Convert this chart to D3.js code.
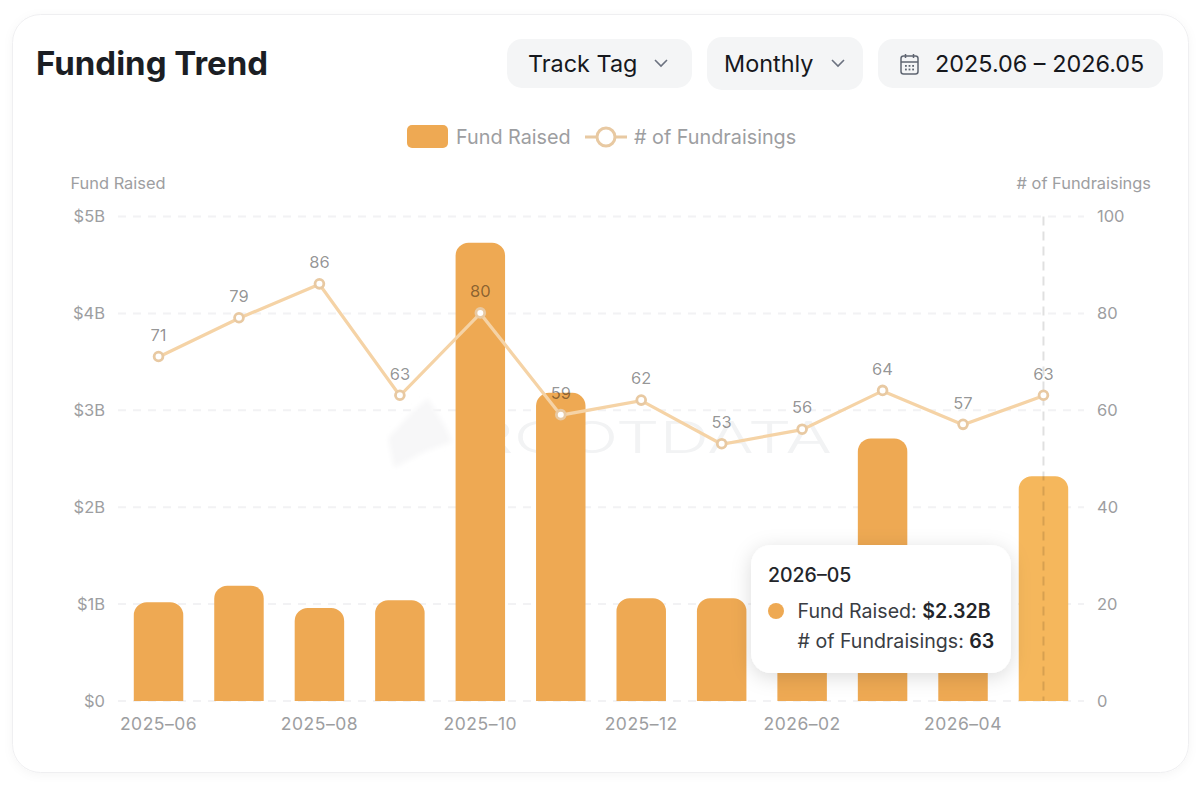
<!DOCTYPE html>
<html>
<head>
<meta charset="utf-8">
<title>Funding Trend</title>
<script src="https://cdn.jsdelivr.net/npm/d3@7"></script>
<style>
  html, body { margin: 0; padding: 0; background: #fff; overflow: hidden; }
  svg { display: block; font-family: Inter, "Noto Sans", sans-serif; }
</style>
</head>
<body>
<svg id="chart" width="1200" height="785"></svg>
<script>
var months = ['2025–06', '2025–07', '2025–08', '2025–09', '2025–10', '2025–11', '2025–12', '2026–01', '2026–02', '2026–03', '2026–04', '2026–05']
// billions of USD. 2026-02 and 2026-04 have their tops hidden by the tooltip, so those two are guesses
var fundRaised = [1.02, 1.19, 0.96, 1.04, 4.73, 3.18, 1.06, 1.06, 1.2, 2.71, 1.2, 2.32]
var fundraisings = [71, 79, 86, 63, 80, 59, 62, 53, 56, 64, 57, 63]
var monthTicks = ['2025–06', '2025–08', '2025–10', '2025–12', '2026–02', '2026–04']
var fundTicks = [0, 1, 2, 3, 4, 5]
var countTicks = [0, 20, 40, 60, 80, 100]

var barColor = '#EEA953'
var hoverColor = '#F5B75C'
var lineColor = '#F5D3A6'
var dotColor = '#E8C9A2'
var tickColor = '#9D9EA1'

var svg = d3.select('#chart')

var defs = svg.append('defs')
var shadow = defs.append('filter').attr('id', 'tipShadow')
  .attr('x', '-20%').attr('y', '-20%').attr('width', '140%').attr('height', '150%')
shadow.append('feDropShadow').attr('dx', 0).attr('dy', 4).attr('stdDeviation', 10)
  .attr('flood-color', '#000').attr('flood-opacity', 0.14)
var cardShadow = defs.append('filter').attr('id', 'cardShadow')
  .attr('x', '-5%').attr('y', '-5%').attr('width', '110%').attr('height', '110%')
cardShadow.append('feDropShadow').attr('dx', 0).attr('dy', 2).attr('stdDeviation', 5)
  .attr('flood-color', '#000').attr('flood-opacity', 0.04)
defs.append('filter').attr('id', 'soft')
  .append('feGaussianBlur').attr('stdDeviation', 2.5)

// card
svg.append('rect')
  .attr('x', 12.5).attr('y', 14.5).attr('width', 1176).attr('height', 758).attr('rx', 28)
  .attr('fill', '#fff').attr('stroke', '#EFEFF1').attr('filter', 'url(#cardShadow)')

svg.append('text').attr('x', 36).attr('y', 75)
  .attr('font-size', 33).attr('font-weight', 700).attr('fill', '#1B1E24')
  .text('Funding Trend')

// header controls
function chevron(x, y) {
  svg.append('path')
    .attr('d', 'M' + (x - 6) + ',' + (y - 3) + 'L' + x + ',' + (y + 3) + 'L' + (x + 6) + ',' + (y - 3))
    .attr('fill', 'none').attr('stroke', '#6C7280').attr('stroke-width', 1.6)
}

function pill(x, y, w, h, label, textX) {
  svg.append('rect').attr('x', x).attr('y', y).attr('width', w).attr('height', h).attr('rx', 15)
    .attr('fill', '#F4F5F6')
  svg.append('text').attr('x', textX).attr('y', 72)
    .attr('font-size', 23.4).attr('fill', '#16181D').text(label)
}

pill(507, 39, 185, 49, 'Track Tag', 528)
chevron(661, 63)
pill(707, 37, 156, 53, 'Monthly', 724)
chevron(838, 63)
pill(878, 39, 285, 49, '2025.06 – 2026.05', 935)

var cal = svg.append('g').attr('transform', 'translate(901,54)')
  .attr('fill', 'none').attr('stroke', '#5F6672').attr('stroke-width', 1.5)
cal.append('rect').attr('x', 0).attr('y', 2).attr('width', 17).attr('height', 18).attr('rx', 2.5)
cal.append('path').attr('d', 'M0,8H17M4.5,0V4M12.5,0V4')
d3.range(3).forEach(function(col) {
  d3.range(2).forEach(function(row) {
    cal.append('rect').attr('x', 4 + col * 3.6).attr('y', 11 + row * 3.6)
      .attr('width', 1.8).attr('height', 1.8).attr('fill', '#5F6672').attr('stroke', 'none')
  })
})

// legend
svg.append('rect').attr('x', 407).attr('y', 125).attr('width', 41).attr('height', 23).attr('rx', 5)
  .attr('fill', barColor)
svg.append('text').attr('x', 456).attr('y', 143.5).attr('font-size', 19.8).attr('fill', tickColor).text('Fund Raised')
svg.append('path').attr('d', 'M585,137H627').attr('stroke', dotColor).attr('stroke-width', 3)
svg.append('circle').attr('cx', 606).attr('cy', 137).attr('r', 9)
  .attr('fill', '#fff').attr('stroke', dotColor).attr('stroke-width', 3)
svg.append('text').attr('x', 634).attr('y', 143.5).attr('font-size', 19.8).attr('fill', tickColor).text('# of Fundraisings')

// axis titles
svg.append('text').attr('x', 70.5).attr('y', 189).attr('font-size', 16.4).attr('fill', tickColor).text('Fund Raised')
svg.append('text').attr('x', 1151).attr('y', 189).attr('text-anchor', 'end')
  .attr('font-size', 16.4).attr('fill', tickColor).text('# of Fundraisings')

// scales
var x = d3.scaleBand().domain(months).range([118.3, 1083.7]).paddingInner(0.385).paddingOuter(0.1925)
var yFund = d3.scaleLinear().domain([0, 5]).range([701, 216.5])
var yCount = d3.scaleLinear().domain([0, 100]).range([701, 216.5])

// grid
svg.append('g').selectAll('line').data(fundTicks).join('line')
  .attr('x1', 118).attr('x2', 1084)
  .attr('y1', function(d) { return yFund(d) }).attr('y2', function(d) { return yFund(d) })
  .attr('stroke', '#F2F2F4').attr('stroke-width', 2).attr('stroke-dasharray', '8 7')

// watermark
var mark = svg.append('g')
mark.append('path').attr('d', 'M428,398L446,428L452,442L424,452L394,468L388,438L412,412Z')
  .attr('fill', '#F7F7F8').attr('filter', 'url(#soft)')
mark.append('text').attr('x', 470).attr('y', 453).attr('font-size', 44).attr('font-weight', 300)
  .attr('textLength', 362).attr('lengthAdjust', 'spacingAndGlyphs')
  .attr('fill', '#F2F3F4').text('ROOTDATA')

// bars, only the top corners are rounded
function barPath(d, i) {
  var x0 = x(months[i])
  var w = x.bandwidth()
  var top = yFund(d)
  var r = 13
  return 'M' + x0 + ',' + yFund(0) +
    'V' + (top + r) +
    'A' + r + ',' + r + ' 0 0 1 ' + (x0 + r) + ',' + top +
    'H' + (x0 + w - r) +
    'A' + r + ',' + r + ' 0 0 1 ' + (x0 + w) + ',' + (top + r) +
    'V' + yFund(0) + 'Z'
}

svg.append('g').selectAll('path').data(fundRaised).join('path')
  .attr('d', barPath)
  .attr('fill', function(d, i) { return i === months.length - 1 ? hoverColor : barColor })

// hover guide
var hoverX = x(months[11]) + x.bandwidth() / 2
svg.append('line').attr('x1', hoverX).attr('x2', hoverX).attr('y1', 216.5).attr('y2', 701)
  .attr('stroke', '#000').attr('stroke-opacity', 0.12).attr('stroke-width', 2).attr('stroke-dasharray', '9 6')

// line and labels
var line = d3.line()
  .x(function(d, i) { return x(months[i]) + x.bandwidth() / 2 })
  .y(function(d) { return yCount(d) })

svg.append('path').datum(fundraisings).attr('d', line)
  .attr('fill', 'none').attr('stroke', lineColor).attr('stroke-width', 3.2)

svg.append('g').selectAll('circle').data(fundraisings).join('circle')
  .attr('cx', function(d, i) { return x(months[i]) + x.bandwidth() / 2 })
  .attr('cy', function(d) { return yCount(d) - 0.5 })
  .attr('r', 4.4).attr('fill', '#fff').attr('stroke', dotColor).attr('stroke-width', 2.8)

svg.append('g').selectAll('text').data(fundraisings).join('text')
  .attr('x', function(d, i) { return x(months[i]) + x.bandwidth() / 2 })
  .attr('y', function(d) { return yCount(d) - 16.2 })
  .attr('text-anchor', 'middle').attr('font-size', 16.5)
  .attr('fill', '#000').attr('fill-opacity', 0.43)
  .text(function(d) { return d })

// axes
function styleAxis(g) {
  g.select('.domain').remove()
  g.selectAll('.tick line').remove()
  g.selectAll('.tick text').attr('fill', tickColor)
    .style('font-size', '16.5px').style('font-family', 'Inter, "Noto Sans", sans-serif')
}

svg.append('g').attr('transform', 'translate(105,0)')
  .call(d3.axisLeft(yFund).tickValues(fundTicks).tickSize(0).tickPadding(0)
    .tickFormat(function(d) { return d === 0 ? '$0' : '$' + d + 'B' }))
  .call(styleAxis)

svg.append('g').attr('transform', 'translate(1097,0)')
  .call(d3.axisRight(yCount).tickValues(countTicks).tickSize(0).tickPadding(0))
  .call(styleAxis)

svg.append('g').attr('transform', 'translate(0,718)')
  .call(d3.axisBottom(x).tickValues(monthTicks).tickSize(0).tickPadding(0))
  .call(styleAxis)
  .call(function(g) { g.selectAll('.tick text').style('font-size', '17.5px').style('letter-spacing', '0.5px') })

// tooltip
var tip = svg.append('g').attr('transform', 'translate(751,545)')
tip.append('rect').attr('width', 260).attr('height', 128).attr('rx', 20)
  .attr('fill', '#fff').attr('filter', 'url(#tipShadow)')
tip.append('text').attr('x', 17).attr('y', 37).attr('font-size', 19.5).attr('font-weight', 500)
  .attr('fill', '#23252A').text(months[11])
tip.append('circle').attr('cx', 25).attr('cy', 66).attr('r', 8).attr('fill', barColor)

var tipRow1 = tip.append('text').attr('x', 46.5).attr('y', 73).attr('font-size', 19.6).attr('fill', '#3A3D43')
tipRow1.append('tspan').text('Fund Raised: ')
tipRow1.append('tspan').attr('font-weight', 600).attr('fill', '#23252A').text('$' + fundRaised[11] + 'B')

var tipRow2 = tip.append('text').attr('x', 46.5).attr('y', 103).attr('font-size', 19.6).attr('fill', '#3A3D43')
tipRow2.append('tspan').text('# of Fundraisings: ')
tipRow2.append('tspan').attr('font-weight', 600).attr('fill', '#23252A').text(fundraisings[11])
</script>
</body>
</html>
